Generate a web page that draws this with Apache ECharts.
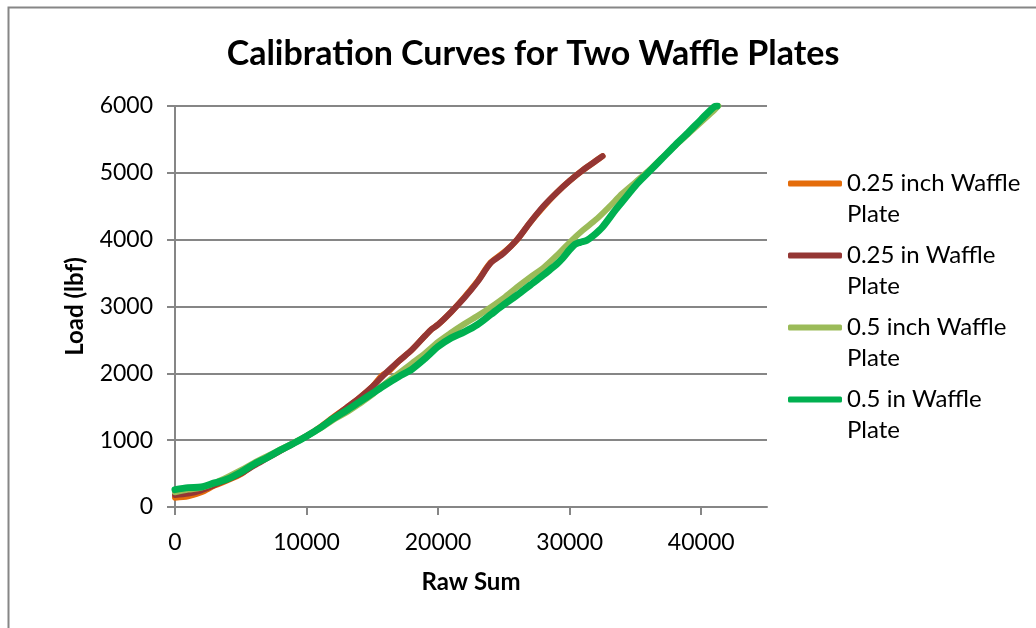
<!DOCTYPE html>
<html>
<head>
<meta charset="utf-8">
<script src="https://cdn.jsdelivr.net/npm/echarts@6/dist/echarts.min.js"></script>
<style>
  html, body { margin: 0; padding: 0; background: #ffffff; }
  #chart { width: 1036px; height: 628px; }
</style>
</head>
<body>
<div id="chart"></div>
<script>
// Raw sum (x) and load in lbf (y) for each calibration run
const rawSum025inch = [0, 1000, 2000, 3000, 4000, 5000, 6000, 7000, 8000, 9000, 10000, 11000, 12000, 13000, 14000, 15000, 15700, 16300, 17000, 18000, 19000, 19500, 20000, 21000, 22000, 23000, 24000, 25000, 26000, 27000, 28000, 29000, 30000, 31000, 32000, 32500];
const load025inch  = [140, 160, 220, 320, 400, 490, 630, 740, 845, 950, 1060, 1190, 1340, 1480, 1630, 1800, 1960, 2040, 2180, 2350, 2560, 2660, 2730, 2920, 3140, 3380, 3660, 3810, 4000, 4260, 4490, 4700, 4880, 5040, 5180, 5250];

const rawSum025in = [0, 1000, 2000, 3000, 4000, 5000, 6000, 7000, 8000, 9000, 10000, 11000, 12000, 13000, 14000, 15000, 16000, 17000, 18000, 19000, 19500, 20000, 21000, 22000, 23000, 24000, 25000, 26000, 27000, 28000, 29000, 30000, 31000, 32000, 32500];
const load025in  = [180, 200, 250, 330, 410, 500, 620, 730, 840, 950, 1060, 1180, 1330, 1480, 1630, 1800, 2000, 2180, 2350, 2560, 2660, 2730, 2920, 3130, 3370, 3650, 3800, 4000, 4260, 4500, 4700, 4880, 5040, 5180, 5250];

const rawSum05inch = [0, 1000, 2000, 3000, 4000, 5000, 6000, 7000, 8000, 9000, 10000, 11000, 12000, 13000, 14000, 15000, 16000, 17000, 18000, 19000, 20000, 21000, 22000, 23000, 24000, 25000, 26000, 27000, 28000, 29000, 30000, 31000, 32000, 33000, 34000, 35000, 36000, 37000, 38000, 39000, 40000, 41000, 41300];
const load05inch  = [220, 260, 290, 360, 450, 550, 660, 760, 860, 960, 1060, 1170, 1300, 1410, 1540, 1680, 1850, 2000, 2150, 2300, 2470, 2610, 2740, 2860, 2990, 3130, 3290, 3440, 3580, 3760, 3960, 4140, 4300, 4490, 4690, 4860, 5030, 5220, 5400, 5580, 5760, 5940, 6000];

const rawSum05in = [0, 1000, 2000, 3000, 4000, 5000, 6000, 7000, 8000, 9000, 10000, 11000, 12000, 13000, 14000, 15000, 16000, 17000, 18000, 19000, 20000, 21000, 22000, 23000, 24000, 25000, 26000, 27000, 28000, 28500, 29000, 29500, 30000, 30400, 30800, 31300, 31800, 32500, 33500, 34300, 35000, 36000, 37000, 38000, 39000, 40000, 41000, 41200];
const load05in  = [260, 290, 300, 360, 420, 520, 640, 740, 850, 950, 1060, 1180, 1320, 1440, 1570, 1700, 1830, 1950, 2060, 2220, 2400, 2530, 2620, 2730, 2880, 3030, 3170, 3320, 3470, 3550, 3630, 3730, 3850, 3930, 3960, 3990, 4060, 4190, 4450, 4640, 4810, 5010, 5210, 5410, 5600, 5800, 5990, 6000];

const yTicks = [0, 1000, 2000, 3000, 4000, 5000, 6000];
const xTicks = [0, 10000, 20000, 30000, 40000];

const seriesNames = ['0.25 inch Waffle Plate', '0.25 in Waffle Plate', '0.5 inch Waffle Plate', '0.5 in Waffle Plate'];
const seriesColors = ['#E46C0A', '#943634', '#9BBB59', '#00B050'];

const pair = (xs, ys) => xs.map((x, i) => [x, ys[i]]);
const runs = [
  pair(rawSum025inch, load025inch),
  pair(rawSum025in, load025in),
  pair(rawSum05inch, load05inch),
  pair(rawSum05in, load05in)
];

const FONT = 'Lato, "Open Sans", sans-serif';
const GRAY = '#868686';
const plain = v => String(v);

const chart = echarts.init(document.getElementById('chart'), null, { renderer: 'canvas' });

chart.setOption({
  animation: false,
  backgroundColor: '#ffffff',
  textStyle: { fontFamily: FONT, color: '#000' },
  graphic: [{
    type: 'polyline',
    silent: true,
    shape: { points: [[8.5, 640], [8.5, 7.5], [1040, 7.5]] },
    style: { stroke: GRAY, lineWidth: 2, fill: null }
  }],
  title: {
    text: 'Calibration Curves for Two Waffle Plates',
    left: 528,
    textAlign: 'center',
    top: 32,
    textStyle: { fontFamily: FONT, fontSize: 34, fontWeight: 'bold', color: '#000' }
  },
  legend: {
    orient: 'vertical',
    left: 788,
    top: 137,
    padding: 0,
    itemGap: -21,
    itemWidth: 54,
    itemHeight: 6,
    icon: 'roundRect',
    // leading blank line keeps the icon level with the first text line
    formatter: name => '\n' + name.replace(' Plate', '\nPlate'),
    textStyle: { fontFamily: FONT, fontSize: 24, color: '#000', lineHeight: 31 },
    data: seriesNames
  },
  grid: { left: 175, right: 269, top: 106, bottom: 121 },
  xAxis: {
    type: 'value',
    min: 0, max: 45000, interval: 10000,
    name: 'Raw Sum',
    nameLocation: 'middle',
    nameGap: 63,
    nameTextStyle: { fontFamily: FONT, fontSize: 24, fontWeight: 'bold', color: '#000' },
    axisLine: { show: true, lineStyle: { color: GRAY, width: 2 } },
    axisTick: { show: true, length: 8, customValues: xTicks, lineStyle: { color: GRAY, width: 2 } },
    axisLabel: { customValues: xTicks, formatter: plain, margin: 24, fontFamily: FONT, fontSize: 23, color: '#000' },
    splitLine: { show: false }
  },
  yAxis: {
    type: 'value',
    min: 0, max: 6000, interval: 1000,
    name: 'Load (lbf)',
    nameLocation: 'middle',
    nameRotate: 90,
    nameGap: 88,
    nameTextStyle: { fontFamily: FONT, fontSize: 24, fontWeight: 'bold', color: '#000' },
    axisLine: { show: true, lineStyle: { color: GRAY, width: 2 } },
    axisTick: { show: true, length: 8, customValues: yTicks, lineStyle: { color: GRAY, width: 2 } },
    axisLabel: { customValues: yTicks, formatter: plain, margin: 22, fontFamily: FONT, fontSize: 23, color: '#000' },
    splitLine: { show: true, lineStyle: { color: GRAY, width: 2 } }
  },
  series: runs.map((data, i) => ({
    name: seriesNames[i],
    type: 'line',
    data: data,
    smooth: 0.3,
    symbol: 'none',
    showSymbol: false,
    color: seriesColors[i],
    lineStyle: { color: seriesColors[i], width: i === 3 ? 7 : 6, cap: 'round', join: 'round' },
    itemStyle: { color: seriesColors[i] },
    z: 2 + i
  }))
});
</script>
</body>
</html>
